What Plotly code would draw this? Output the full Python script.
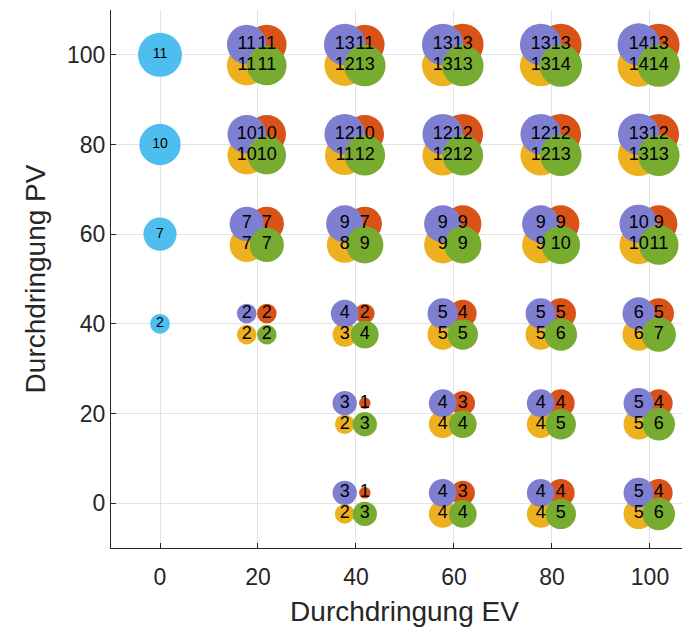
import math
import plotly.graph_objects as go

# ---------------- data ----------------
# colored series: positions (EV, PV) and values
colored_ev = [20, 20, 20, 20,
              40, 40, 40, 40, 40, 40,
              60, 60, 60, 60, 60, 60,
              80, 80, 80, 80, 80, 80,
              100, 100, 100, 100, 100, 100]
colored_pv = [40, 60, 80, 100,
              0, 20, 40, 60, 80, 100,
              0, 20, 40, 60, 80, 100,
              0, 20, 40, 60, 80, 100,
              0, 20, 40, 60, 80, 100]

purple_vals = [2, 7, 10, 11,
               3, 3, 4, 9, 12, 13,
               4, 4, 5, 9, 12, 13,
               4, 4, 5, 9, 12, 13,
               5, 5, 6, 10, 13, 14]
red_vals = [2, 7, 10, 11,
            1, 1, 2, 7, 10, 11,
            3, 3, 4, 9, 12, 13,
            4, 4, 5, 9, 12, 13,
            4, 4, 5, 9, 12, 13]
yellow_vals = [2, 7, 10, 11,
               2, 2, 3, 8, 11, 12,
               4, 4, 5, 9, 12, 13,
               4, 4, 5, 9, 12, 13,
               5, 5, 6, 10, 13, 14]
green_vals = [2, 7, 10, 11,
              3, 3, 4, 9, 12, 13,
              4, 4, 5, 9, 12, 13,
              5, 5, 6, 10, 13, 14,
              6, 6, 7, 11, 13, 14]

# EV = 0 series
blue_ev = [0, 0, 0, 0]
blue_pv = [40, 60, 80, 100]
blue_vals = [2, 7, 10, 11]

x_ticks = [0, 20, 40, 60, 80, 100]
y_ticks = [0, 20, 40, 60, 80, 100]

# ---------------- styling ----------------
FONT = "Liberation Sans, Arial, Helvetica, sans-serif"
INK = "#262626"


def size_colored(v):
    return 11.5 + 11.7 * math.log(v)


def size_blue(v):
    return 14.3 + 2.7 * v


# (values, color, dx, dy) ; draw order: red, yellow, purple, green
series = [
    (red_vals, "#D95319", 1.8, 2.3),
    (yellow_vals, "#EDB120", -2.3, -2.4),
    (purple_vals, "#7E7FD1", -2.3, 2.3),
    (green_vals, "#77AC30", 1.8, -2.4),
]

fig = go.Figure()

# blue markers
fig.add_trace(go.Scatter(
    x=blue_ev, y=blue_pv, mode="markers",
    marker=dict(size=[size_blue(v) for v in blue_vals], sizemode="diameter",
                color="#4DBEEE", line=dict(width=0), opacity=1),
    hoverinfo="skip", showlegend=False))

# colored markers
for vals, col, dx, dy in series:
    fig.add_trace(go.Scatter(
        x=[e + dx for e in colored_ev], y=[p + dy for p in colored_pv],
        mode="markers",
        marker=dict(size=[size_colored(v) for v in vals], sizemode="diameter",
                    color=col, line=dict(width=0), opacity=1),
        hoverinfo="skip", showlegend=False))

# text on top
fig.add_trace(go.Scatter(
    x=blue_ev, y=blue_pv, mode="text", text=[str(v) for v in blue_vals],
    textposition="middle center",
    textfont=dict(family=FONT, size=14, color="#000000"),
    hoverinfo="skip", showlegend=False))
for vals, col, dx, dy in series:
    fig.add_trace(go.Scatter(
        x=[e + dx for e in colored_ev], y=[p + dy for p in colored_pv],
        mode="text", text=[str(v) for v in vals],
        textposition="middle center",
        textfont=dict(family=FONT, size=18, color="#000000"),
        hoverinfo="skip", showlegend=False))

axis_common = dict(
    showgrid=True, gridcolor="#E3E3E3", gridwidth=1,
    zeroline=False, showline=True, linecolor=INK, linewidth=1,
    ticks="inside", ticklen=5, tickcolor=INK,
    tickfont=dict(family=FONT, size=23, color=INK),
    mirror=False, automargin=False,
)

# the page body adds an 8px offset; margins compensate for it
fig.update_layout(
    width=690, height=633,
    margin=dict(l=103, r=0, t=2, b=93),
    paper_bgcolor="white", plot_bgcolor="white",
    xaxis=dict(range=[-10, 109.8], tickvals=x_ticks, ticklabelstandoff=8,
               title=dict(text="Durchdringung EV", font=dict(family=FONT, size=28, color=INK), standoff=12),
               **axis_common),
    yaxis=dict(range=[-10, 110], tickvals=y_ticks, ticklabelstandoff=0,
               title=dict(text="Durchdringung PV", font=dict(family=FONT, size=28, color=INK), standoff=13),
               **axis_common),
)

fig.write_html("out.html")
